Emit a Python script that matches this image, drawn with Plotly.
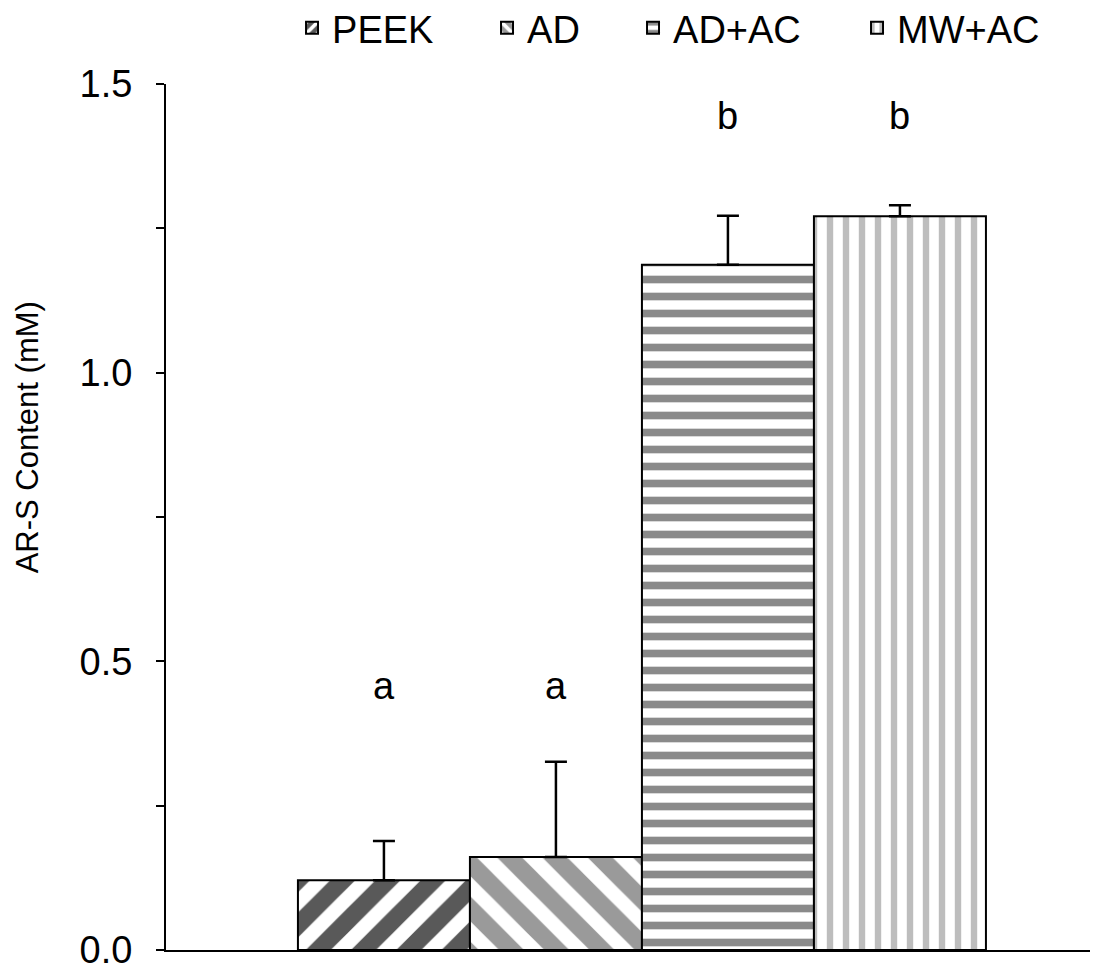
import plotly.graph_objects as go

categories = ["PEEK", "AD", "AD+AC", "MW+AC"]
values = [0.121, 0.161, 1.187, 1.271]
errors_plus = [0.068, 0.165, 0.085, 0.019]
letters = ["a", "a", "b", "b"]
letter_y = [0.458, 0.458, 1.445, 1.445]
y_ticks = [0.0, 0.5, 1.0, 1.5]
legend_widths = [150, 101, 179, 160]

patterns = [
    dict(shape="/", bgcolor="#595959", fgcolor="white", size=32, solidity=0.45),
    dict(shape="\\", bgcolor="#9a9a9a", fgcolor="white", size=32, solidity=0.45),
    dict(shape="-", bgcolor="white", fgcolor="#8a8a8a", size=17, solidity=0.45),
    dict(shape="|", bgcolor="white", fgcolor="#bdbdbd", size=16, solidity=0.4),
]

fig = go.Figure()
for i, (c, v, e, p, lw) in enumerate(zip(categories, values, errors_plus, patterns, legend_widths)):
    fig.add_trace(go.Bar(
        x=[i], y=[v], name=c, width=1, legendwidth=lw,
        marker=dict(color=p["bgcolor"], pattern=dict(fillmode="replace", **p),
                    line=dict(color="black", width=2)),
        error_y=dict(type="data", symmetric=False, array=[e], arrayminus=[0],
                     color="black", thickness=2.5, width=11),
    ))

for i, (t, yy) in enumerate(zip(letters, letter_y)):
    fig.add_annotation(x=i, y=yy, text=t, showarrow=False,
                       font=dict(size=38, color="black"), yanchor="middle")

# y-axis title (placed as in the reference, above the axis midpoint)
fig.add_annotation(xref="paper", yref="paper", x=-0.149, y=0.5924,
                   text="AR-S Content (mM)", textangle=-90, showarrow=False,
                   font=dict(size=31, color="black"),
                   xanchor="center", yanchor="middle")

fig.update_layout(
    width=1118, height=974,
    margin=dict(l=166, r=28, t=84, b=24, autoexpand=False),
    plot_bgcolor="white", paper_bgcolor="white",
    font=dict(family="Liberation Sans, Arial, sans-serif", size=38, color="black"),
    barmode="overlay",
    showlegend=True,
    legend=dict(orientation="h", x=0.1364, xanchor="left",
                y=1 - 28 / 974, yanchor="middle", yref="container",
                font=dict(size=38), itemwidth=30,
                bgcolor="rgba(0,0,0,0)"),
    xaxis=dict(range=[-1.267, 4.105], showticklabels=False, ticks="",
               showgrid=False, zeroline=False, showline=True,
               linecolor="black", linewidth=2),
    yaxis=dict(range=[0, 1.5], tickvals=y_ticks, tickformat=".1f",
               ticks="outside", ticklen=8, tickwidth=2, tickcolor="black",
               minor=dict(tickvals=[0.25, 0.75, 1.25], ticks="outside", ticklen=8,
                          tickwidth=2, tickcolor="black", showgrid=False),
               showgrid=False, zeroline=False, showline=True,
               linecolor="black", linewidth=2,
               ticklabelstandoff=16),
)

fig.write_html("out.html", config={"displayModeBar": False},
               post_script="document.body.style.margin='0';document.body.style.overflow='hidden';")
